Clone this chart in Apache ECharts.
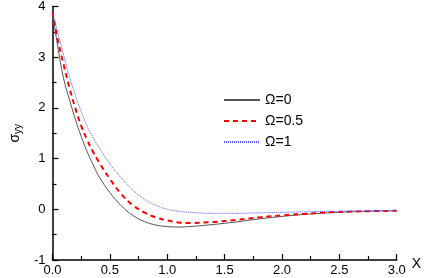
<!DOCTYPE html>
<html>
<head>
<meta charset="utf-8">
<script src="https://cdn.jsdelivr.net/npm/echarts@6/dist/echarts.min.js"></script>
<style>
html, body { margin: 0; padding: 0; background: #fff; }
#chart { width: 424px; height: 278px; }
</style>
</head>
<body>
<div id="chart"></div>
<script>
// x positions of the sampled points
var xValues = [0, 0.05, 0.1, 0.15, 0.2, 0.25, 0.3, 0.35, 0.4, 0.5, 0.6, 0.7, 0.8, 0.9, 1.0, 1.1, 1.2, 1.4, 1.6, 1.8, 2.0, 2.2, 2.4, 2.6, 2.8, 3.0];
// sigma_yy for each omega
var omega0 = [3.9, 3.15, 2.55, 2.15, 1.77, 1.44, 1.15, 0.9, 0.67, 0.33, 0.07, -0.12, -0.24, -0.31, -0.34, -0.35, -0.34, -0.3, -0.25, -0.19, -0.14, -0.1, -0.07, -0.05, -0.035, -0.03];
var omega05 = [3.9, 3.3, 2.83, 2.38, 1.99, 1.65, 1.38, 1.15, 0.95, 0.6, 0.3, 0.08, -0.06, -0.16, -0.22, -0.26, -0.27, -0.25, -0.21, -0.16, -0.12, -0.09, -0.06, -0.045, -0.035, -0.03];
var omega1 = [3.9, 3.45, 3.02, 2.6, 2.25, 1.93, 1.65, 1.43, 1.24, 0.9, 0.62, 0.38, 0.2, 0.08, 0.0, -0.04, -0.06, -0.08, -0.08, -0.07, -0.06, -0.05, -0.04, -0.035, -0.03, -0.025];
var seriesNames = ['Ω=0', 'Ω=0.5', 'Ω=1'];
var xTicks = ['0.0', '0.5', '1.0', '1.5', '2.0', '2.5', '3.0'];

function pairs(ys) {
    var out = [];
    for (var i = 0; i < xValues.length; i++) {
        out.push([xValues[i], ys[i]]);
    }
    return out;
}

var font = 'Arial, "Liberation Sans", sans-serif';
var axisCommon = {
    axisLine: { show: true, onZero: false, lineStyle: { color: '#000', width: 1.5 } },
    axisTick: { show: true, inside: true, length: 6, lineStyle: { color: '#000', width: 1.2 } },
    minorTick: { show: true, splitNumber: 2, length: 4, lineStyle: { color: '#000', width: 1.2 } },
    splitLine: { show: false },
    axisLabel: { color: '#000', fontSize: 13, fontFamily: font }
};

var myChart = echarts.init(document.getElementById('chart'));
var option = {
    animation: false,
    grid: { left: 41, right: 19, top: 6, bottom: 18 },
    legend: {
        orient: 'vertical',
        left: 218,
        top: 88,
        itemWidth: 36,
        itemHeight: 10,
        itemGap: 7,
        itemStyle: { opacity: 0 },
        textStyle: { color: '#000', fontSize: 14, fontFamily: font },
        data: seriesNames
    },
    xAxis: Object.assign({}, axisCommon, {
        type: 'value',
        min: 0,
        max: 3,
        interval: 0.5,
        name: 'X',
        nameLocation: 'end',
        nameGap: 3,
        nameTextStyle: { color: '#000', fontSize: 14, fontFamily: font, verticalAlign: 'top', padding: [-3, 0, 0, 0] },
        axisLabel: {
            color: '#000', fontSize: 13, fontFamily: font, margin: 4,
            formatter: function (v) { return xTicks[Math.round(v * 2)]; }
        }
    }),
    yAxis: Object.assign({}, axisCommon, {
        type: 'value',
        min: -1,
        max: 4,
        interval: 1,
        name: 'σ{s|yy}',
        nameLocation: 'middle',
        nameRotate: 90,
        nameGap: 29,
        nameTextStyle: {
            color: '#000', fontSize: 14, fontFamily: font,
            rich: { s: { fontSize: 10, fontFamily: font, color: '#000', verticalAlign: 'bottom', padding: [6, 0, 0, 0] } }
        },
        axisLabel: { color: '#000', fontSize: 13, fontFamily: font, margin: 7 }
    }),
    series: [
        {
            name: seriesNames[0], type: 'line', smooth: 0.4, symbol: 'none',
            lineStyle: { color: '#555', width: 1, type: 'solid' },
            itemStyle: { color: '#555' },
            data: pairs(omega0)
        },
        {
            name: seriesNames[1], type: 'line', smooth: 0.4, symbol: 'none',
            lineStyle: { color: '#ff0000', width: 2, type: [5, 4] },
            itemStyle: { color: '#ff0000' },
            data: pairs(omega05)
        },
        {
            name: seriesNames[2], type: 'line', smooth: 0.4, symbol: 'none',
            lineStyle: { color: '#5555ff', width: 1, type: [1, 1] },
            itemStyle: { color: '#5555ff' },
            data: pairs(omega1)
        }
    ]
};
myChart.setOption(option);
</script>
</body>
</html>
